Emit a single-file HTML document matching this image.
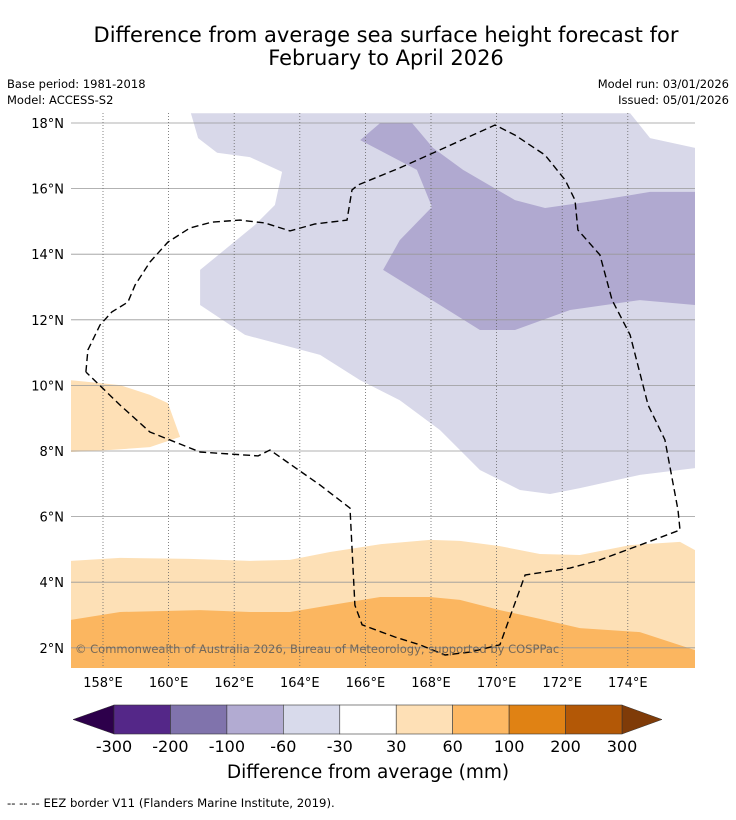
<!DOCTYPE html>
<html><head><meta charset="utf-8"><style>
body{margin:0;background:#fff;width:736px;height:816px;overflow:hidden;font-family:"DejaVu Sans","Liberation Sans",sans-serif}
</style></head><body>
<svg id="chart" width="736" height="816" xmlns="http://www.w3.org/2000/svg" font-family="DejaVu Sans, Liberation Sans, sans-serif">
<text x="386" y="42" font-size="21" text-anchor="middle">Difference from average sea surface height forecast for</text>
<text x="386" y="65" font-size="21" text-anchor="middle">February to April 2026</text>
<text x="7" y="88" font-size="11.5">Base period: 1981-2018</text>
<text x="7" y="104" font-size="11.5">Model: ACCESS-S2</text>
<text x="729" y="88" font-size="11.5" text-anchor="end">Model run: 03/01/2026</text>
<text x="729" y="104" font-size="11.5" text-anchor="end">Issued: 05/01/2026</text>
<defs><clipPath id="mapclip"><rect x="71" y="113" width="624" height="555"/></clipPath></defs>
<g id="map" clip-path="url(#mapclip)"></g>
<g id="axes"></g>
<g id="cbar"></g>
<text x="368" y="778" font-size="18.5" text-anchor="middle">Difference from average (mm)</text>
<text x="7" y="807" font-size="11.7">--  --  -- EEZ border V11 (Flanders Marine Institute, 2019).</text>
</svg>
<script>
const lonTicks=[158,160,162,164,166,168,170,172,174];
const latTicks=[18,16,14,12,10,8,6,4,2];
const lightPurple=[[160.68,18.3],[160.9,17.54],[161.48,17.09],[162.48,16.96],[163.46,16.51],[163.24,15.5],[162.63,14.89],[160.96,13.52],[160.96,12.45],[162.33,11.54],[164.62,10.93],[165.84,10.16],[167.05,9.55],[168.27,8.64],[169.49,7.42],[170.71,6.81],[171.63,6.69],[172.54,6.87],[174.37,7.27],[176.05,7.48],[176.05,17.24],[174.68,17.54],[174.07,18.3]];
const midPurple=[[166.45,18],[167.42,18],[168.06,17.24],[168.98,16.57],[170.56,15.65],[171.48,15.41],[173.15,15.65],[174.68,15.9],[176.05,15.9],[176.05,12.45],[174.37,12.6],[172.24,12.3],[170.56,11.69],[169.49,11.69],[168.27,12.45],[166.54,13.52],[167.05,14.43],[168.03,15.44],[167.57,16.57],[165.84,17.48]];
const westOrange=[[157.02,10.16],[158.52,10.01],[159.43,9.71],[159.98,9.46],[160.35,8.43],[159.43,8.12],[158.21,8.03],[157.02,7.97]];
const southLight=[[157.02,4.65],[158.52,4.74],[160.65,4.71],[162.48,4.65],[163.7,4.68],[164.92,4.92],[166.45,5.16],[167.97,5.29],[168.88,5.26],[170.1,5.1],[171.32,4.86],[172.54,4.83],[174.07,5.13],[175.59,5.23],[176.05,4.98],[176.05,1.3],[157.02,1.3]];
const southDark=[[157.02,2.85],[158.52,3.09],[160.96,3.15],[162.48,3.09],[163.7,3.09],[164.92,3.3],[166.45,3.55],[167.97,3.55],[168.88,3.46],[170.1,3.15],[171.32,2.88],[172.54,2.6],[174.37,2.48],[176.05,1.93],[176.05,1.3],[157.02,1.3]];
const eez=[[157.48,10.41],[157.54,11.08],[157.91,11.84],[158.27,12.24],[158.76,12.54],[158.98,13.06],[159.43,13.76],[159.98,14.37],[160.65,14.8],[161.32,14.98],[162.18,15.04],[162.94,14.95],[163.7,14.71],[164.46,14.92],[165.44,15.04],[165.59,15.96],[165.77,16.11],[167.05,16.63],[168.27,17.18],[169.95,17.94],[170.56,17.63],[171.48,17.02],[172.09,16.26],[172.39,15.65],[172.48,14.74],[173.15,13.98],[173.52,12.6],[174.07,11.54],[174.62,9.4],[175.13,8.34],[175.53,6.2],[175.59,5.59],[174.37,5.13],[173.15,4.68],[172.24,4.43],[170.87,4.22],[170.1,2.09],[169.19,1.87],[168.43,1.78],[167.66,2.09],[166.9,2.33],[165.9,2.7],[165.68,3.3],[165.53,6.26],[164.62,6.96],[163.09,8.03],[162.73,7.85],[160.96,7.97],[159.43,8.58],[158.52,9.4],[157.48,10.41]];
const cbLevels=["-300","-200","-100","-60","-30","30","60","100","200","300"];
const cbColors=["#542788","#8073ac","#b2abd2","#d8daeb","#ffffff","#fee0b6","#fdb863","#e08214","#b35806"];
const NS="http://www.w3.org/2000/svg";
const X=lon=>103+(lon-158)*32.8;
const Y=lat=>123+(18-lat)*32.8;
function mk(tag,attrs,parent){const e=document.createElementNS(NS,tag);for(const k in attrs)e.setAttribute(k,attrs[k]);parent.appendChild(e);return e;}
const pts=a=>a.map(p=>X(p[0]).toFixed(1)+","+Y(p[1]).toFixed(1)).join(" ");
const map=document.getElementById('map');
mk('rect',{x:71,y:113,width:624,height:555,fill:'#fff'},map);
const regions=[[lightPurple,'#d8d8e9','region-minus60-to-minus30'],[midPurple,'#b0a9d0','region-minus100-to-minus60'],[westOrange,'#fee0b6','region-30-to-60-west'],[southLight,'#fde0b6','region-30-to-60-south'],[southDark,'#fbb660','region-60-to-100-south']];
for(const r of regions){const p=mk('polygon',{points:pts(r[0]),fill:r[1]},map);

}
for(const lat of latTicks){const l=mk('line',{x1:71,x2:695,y1:Y(lat),y2:Y(lat),stroke:'#999','stroke-width':0.8},map);

}
for(const lon of lonTicks){const l=mk('line',{x1:X(lon),x2:X(lon),y1:113,y2:668,stroke:'#666','stroke-width':0.8,'stroke-dasharray':'1,2'},map);

}
const e=mk('polyline',{points:pts(eez),fill:'none',stroke:'#000','stroke-width':1.4,'stroke-dasharray':'7,4'},map);


const c=mk('text',{x:75,y:653,'font-size':11.5,fill:'#555','fill-opacity':0.8},map);c.textContent='© Commonwealth of Australia 2026, Bureau of Meteorology, supported by COSPPac';


const ax=document.getElementById('axes');
for(const lat of latTicks){const t=mk('text',{x:64,y:Y(lat)+5,'font-size':13,'text-anchor':'end'},ax);t.textContent=lat+'°N';

}
for(const lon of lonTicks){const t=mk('text',{x:X(lon),y:687,'font-size':13,'text-anchor':'middle'},ax);t.textContent=lon+'°E';

}
const cb=document.getElementById('cbar');
const cx0=114,cw=508/cbColors.length,cy=705,ch=29;
const la=mk('polygon',{points:`${cx0},${cy} ${cx0},${cy+ch} 73,${cy+ch/2}`,fill:'#2d004b',stroke:'#333','stroke-width':0.5},cb);


const ra=mk('polygon',{points:`${cx0+508},${cy} ${cx0+508},${cy+ch} 662,${cy+ch/2}`,fill:'#7f3b08',stroke:'#333','stroke-width':0.5},cb);


cbColors.forEach((col,i)=>{const r=mk('rect',{x:cx0+i*cw,y:cy,width:cw,height:ch,fill:col,stroke:'#333','stroke-width':0.6},cb);

});
cbLevels.forEach((lv,i)=>{const t=mk('text',{x:cx0+i*cw,y:752,'font-size':16,'text-anchor':'middle'},cb);t.textContent=lv;

});
</script>
</body></html>
